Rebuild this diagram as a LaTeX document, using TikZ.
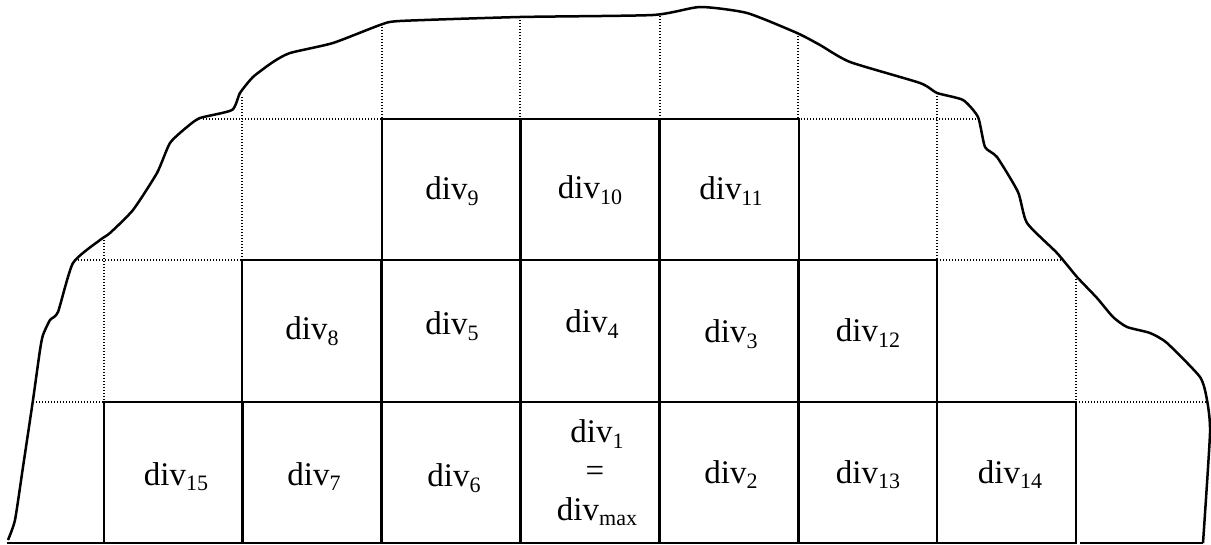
\documentclass[tikz,border=0pt]{standalone}
\usepackage{fontspec}
\setmainfont{Liberation Serif}
\newcommand\dv[1]{div\raisebox{-2.8pt}{\fontsize{11}{13}\selectfont #1}}
\begin{document}
\begin{tikzpicture}[x=0.5pt,y=-0.5pt,
  cell/.style={draw=black,line width=0.9pt},
  grid/.style={draw=black,line width=0.6pt,dash pattern=on 0.6pt off 0.9pt},
  outline/.style={draw=black,line width=1.25pt,line join=round},
  lab/.style={font=\fontsize{16.5}{19}\selectfont,inner sep=0pt,anchor=base}]
\useasboundingbox (0,0) rectangle (1211,545);
% dotted grid
\draw[grid] (382,27) -- (382,119) (520,17) -- (520,119) (660,16) -- (660,119) (798,33) -- (798,119);
\draw[grid] (242,97) -- (242,260) (937,93) -- (937,260);
\draw[grid] (104,240) -- (104,402) (1076,276) -- (1076,402);
\draw[grid] (203,119) -- (382,119) (798,119) -- (979,119);
\draw[grid] (75,260) -- (242,260) (937,260) -- (1064,260);
\draw[grid] (33,402) -- (104,402) (1076,402) -- (1207,402);
% solid cells
\foreach \x in {382,520,660}{\draw[cell] (\x,119) rectangle ++(139,141);}
\foreach \x in {242,382,520,660,798}{\draw[cell] (\x,260) rectangle ++(139,142);}
\foreach \x in {104,242,382,520,660,798,937}{\draw[cell] (\x,402) rectangle ++(139,141);}
% bottom line
\draw[cell] (7,543) -- (104,543) (1080,543) -- (1203,543);
% outline
\draw[outline] plot[smooth,tension=0.35] coordinates {(8,540) (15,520) (23,467) (33,400) (40,350) (43,335) (50,320) (58,312) (73,263) (100,240) (110,233) (133,210) (157,173) (170,143) (187,127) (200,118) (232,110) (240,93) (253,77) (273,62) (290,53) (333,43) (380,25) (400,21) (520,17) (653,15) (700,7) (747,13) (797,33) (820,45) (850,62) (920,83) (937,93) (963,100) (978,117) (985,147) (997,157) (1018,192) (1027,223) (1057,253) (1077,277) (1097,298) (1113,317) (1127,327) (1150,333) (1167,343) (1200,377) (1207,400) (1210,433) (1203,543)};
% labels
\node[lab] (d9) at (452,200) {\dv{9}};
\node[lab] (d10) at (590,199) {\dv{10}};
\node[lab] (d11) at (731,200) {\dv{11}};
\node[lab] (d8) at (312,340) {\dv{8}};
\node[lab] (d5) at (452,335) {\dv{5}};
\node[lab] (d4) at (592,333) {\dv{4}};
\node[lab] (d3) at (731,343) {\dv{3}};
\node[lab] (d12) at (868,342) {\dv{12}};
\node[lab] (d15) at (176,485) {\dv{15}};
\node[lab] (d7) at (314,485) {\dv{7}};
\node[lab] (d6) at (454,487) {\dv{6}};
\node[lab] (d1) at (597,443) {\dv{1}};
\node[lab] (deq) at (595,481) {=};
\node[lab] (dmax) at (597,520) {\dv{max}};
\node[lab] (d2) at (731,483) {\dv{2}};
\node[lab] (d13) at (868,483) {\dv{13}};
\node[lab] (d14) at (1010,483) {\dv{14}};
\end{tikzpicture}
\end{document}
